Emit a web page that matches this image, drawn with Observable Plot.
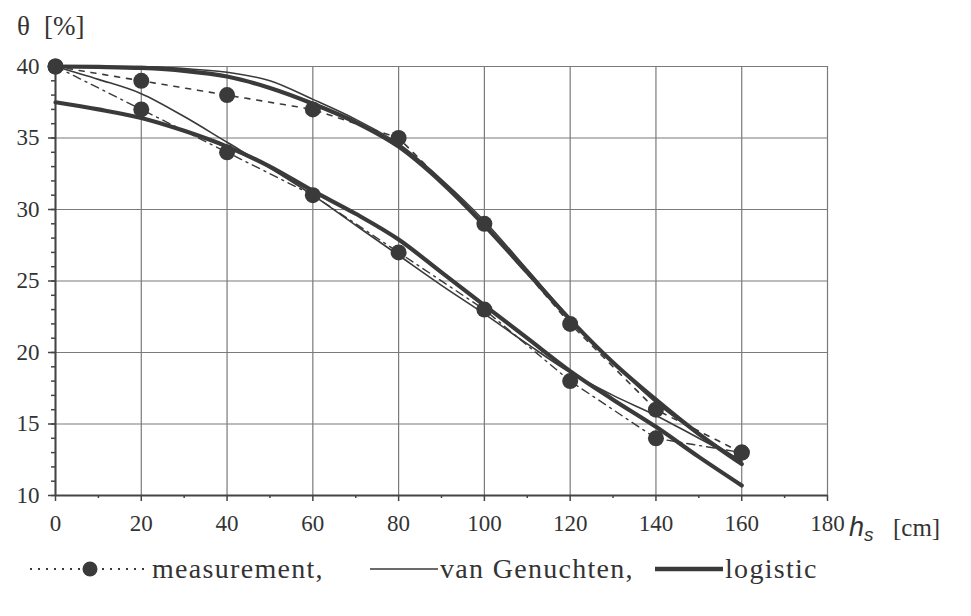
<!DOCTYPE html>
<html>
<head>
<meta charset="utf-8">
<script src="https://cdn.jsdelivr.net/npm/d3@7"></script>
<script src="https://cdn.jsdelivr.net/npm/@observablehq/plot@0.6"></script>
<style>
  html, body { margin: 0; padding: 0; background: #fff; }
  #chart { width: 971px; }
  .legend { position: relative; font-family: "Liberation Serif", "Times New Roman", Tinos, "DejaVu Serif", "Noto Serif", serif; font-size: 28px; letter-spacing: 1.3px; color: #333; height: 60px; }
  .legend .item { position: absolute; top: 13px; display: flex; align-items: center; white-space: nowrap; }
  .legend svg { display: block; }
  svg text { font-family: "Liberation Serif", "Times New Roman", Tinos, "DejaVu Serif", "Noto Serif", serif; }
  svg text.sans, svg tspan.sans { font-family: "Liberation Sans", Arial, sans-serif; }
</style>
</head>
<body>
<div id="chart"></div>
<script>
// ---- data ----
const hsMeas = [0, 20, 40, 60, 80, 100, 120, 140, 160];
const measUpper = [40, 39, 38, 37, 35, 29, 22, 16, 13];
const measLower = [40, 37, 34, 31, 27, 23, 18, 14, 13];

const hsFit = [0, 10, 20, 30, 40, 50, 60, 70, 80, 90, 100, 110, 120, 130, 140, 150, 160];
const vgUpper  = [40, 40, 40, 39.85, 39.6, 39.0, 37.7, 36.3, 34.6, 32.1, 29.2, 25.8, 22.4, 19.3, 16.5, 14.3, 12.4];
const logUpper = [40, 39.97, 39.9, 39.7, 39.3, 38.5, 37.4, 36.1, 34.4, 31.9, 28.9, 25.6, 22.3, 19.3, 16.7, 14.3, 12.2];
const vgLower  = [40, 39.1, 38.1, 36.5, 34.7, 32.9, 31.0, 28.9, 26.8, 24.7, 22.7, 20.6, 18.6, 17.0, 15.6, 14.0, 12.4];
const logLower = [37.5, 37.0, 36.4, 35.5, 34.4, 33.0, 31.3, 29.7, 27.9, 25.6, 23.3, 21.0, 18.7, 16.7, 14.8, 12.7, 10.7];

const xTicks = [0, 20, 40, 60, 80, 100, 120, 140, 160, 180];
const xMinor = [10, 30, 50, 70, 90, 110, 130, 150, 170];
const yTicks = [10, 15, 20, 25, 30, 35, 40];
const yMinor = d3.range(10, 41, 1);

const seriesLabels = ["measurement,", "van Genuchten,", "logistic"];

// ---- tables ----
const meas = (arr, g) => hsMeas.map((h, i) => ({h, t: arr[i], g}));
const fit = (arr, g) => hsFit.map((h, i) => ({h, t: arr[i], g}));
const mU = meas(measUpper, "U"), mL = meas(measLower, "L");
const vU = fit(vgUpper, "U"), vL = fit(vgLower, "L");
const lU = fit(logUpper, "U"), lL = fit(logLower, "L");

const ink = "#3a3a3a";
const grid = "#7a7a7a";

const plot = Plot.plot({
  width: 971,
  height: 540,
  marginLeft: 55,
  marginRight: 144,
  marginTop: 66,
  marginBottom: 45,
  x: {domain: [0, 180], label: null},
  y: {domain: [10, 40], label: null},
  style: {fontSize: "23px", color: "#333", background: "#fff", overflow: "visible"},
  marks: [
    Plot.gridX(xTicks, {stroke: grid, strokeOpacity: 1, strokeWidth: 1.2}),
    Plot.gridY(yTicks, {stroke: grid, strokeOpacity: 1, strokeWidth: 1.2}),
    Plot.axisX(xMinor, {tickSize: 3, tickFormat: () => "", label: null, stroke: "#444", strokeWidth: 1.5}),
    Plot.axisX(xTicks, {tickSize: 6, tickPadding: 13, stroke: "#444", strokeWidth: 1.5, fill: "#333", label: null, fontSize: 23}),
    Plot.axisY(yMinor, {tickSize: 4, tickFormat: () => "", label: null, stroke: "#444", strokeWidth: 1.5}),
    Plot.axisY(yTicks, {tickSize: 7, tickPadding: 9, stroke: "#444", strokeWidth: 1.5, fill: "#333", label: null, fontSize: 23}),
    Plot.ruleX([0], {stroke: "#444", strokeWidth: 2}),
    Plot.ruleY([10], {stroke: "#444", strokeWidth: 2}),
    // measurement lines
    Plot.line(mU, {x: "h", y: "t", stroke: ink, strokeWidth: 1.6, strokeDasharray: "5,7"}),
    Plot.line(mL, {x: "h", y: "t", stroke: ink, strokeWidth: 1.4, strokeDasharray: "8,5,2,5"}),
    // van Genuchten
    Plot.line(vU, {x: "h", y: "t", stroke: ink, strokeWidth: 1.6, curve: "monotone-x"}),
    Plot.line(vL, {x: "h", y: "t", stroke: ink, strokeWidth: 1.6, curve: "monotone-x"}),
    // logistic
    Plot.line(lU, {x: "h", y: "t", stroke: ink, strokeWidth: 4.2, curve: "monotone-x"}),
    Plot.line(lL, {x: "h", y: "t", stroke: ink, strokeWidth: 4.2, curve: "monotone-x"}),
    // points
    Plot.dot(mU.concat(mL), {x: "h", y: "t", r: 8, fill: ink, stroke: "none"})
  ]
});

const svg = d3.select(plot);
// y label
const yl = svg.append("text").attr("y", 35).attr("text-anchor", "start").attr("font-size", 27).attr("fill", "#333");
yl.append("tspan").attr("x", 17).text("θ");
yl.append("tspan").attr("x", 44).text("[%]");
// x label
const xl = svg.append("text").attr("x", 849).attr("y", 536).attr("text-anchor", "start").attr("fill", "#333");
xl.append("tspan").attr("class", "sans").attr("font-style", "italic").attr("font-size", 27).text("h");
xl.append("tspan").attr("class", "sans").attr("font-style", "italic").attr("font-size", 19).attr("dy", 5).text("s");
xl.append("tspan").attr("font-size", 25).attr("dy", -5).attr("x", 893).text("[cm]");

document.getElementById("chart").appendChild(plot);

// legend
const legend = d3.select("#chart").append("div").attr("class", "legend");
const it1 = legend.append("div").attr("class", "item").style("left", "28px");
const s1 = it1.append("svg").attr("width", 122).attr("height", 20);
s1.append("line").attr("x1", 2).attr("x2", 120).attr("y1", 10).attr("y2", 10)
  .attr("stroke", ink).attr("stroke-width", 2).attr("stroke-dasharray", "2,6");
s1.append("circle").attr("cx", 62).attr("cy", 10).attr("r", 7.5).attr("fill", ink);
it1.append("span").style("margin-left", "2px").text(seriesLabels[0]);

const it2 = legend.append("div").attr("class", "item").style("left", "370px");
const s2 = it2.append("svg").attr("width", 68).attr("height", 20);
s2.append("line").attr("x1", 0).attr("x2", 68).attr("y1", 10).attr("y2", 10).attr("stroke", ink).attr("stroke-width", 1.6);
it2.append("span").style("margin-left", "2px").text(seriesLabels[1]);

const it3 = legend.append("div").attr("class", "item").style("left", "655px");
const s3 = it3.append("svg").attr("width", 68).attr("height", 20);
s3.append("line").attr("x1", 0).attr("x2", 68).attr("y1", 10).attr("y2", 10).attr("stroke", ink).attr("stroke-width", 4.5);
it3.append("span").style("margin-left", "2px").text(seriesLabels[2]);
</script>
</body>
</html>
